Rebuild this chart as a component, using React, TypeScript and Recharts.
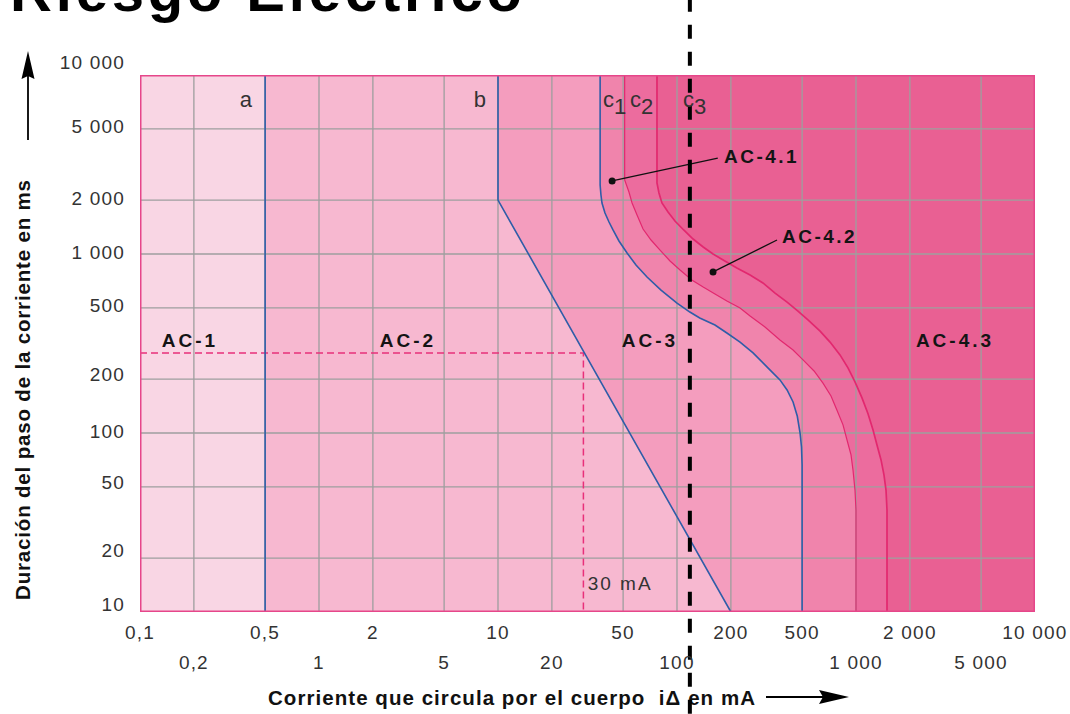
import React from 'react';
import { ComposedChart, XAxis, YAxis, Area, Line, Scatter, ReferenceLine } from 'recharts';

// ---------- axis ticks ----------
const X_TICKS = [0.1, 0.2, 0.5, 1, 2, 5, 10, 20, 50, 100, 200, 500, 1000, 2000, 5000, 10000];
const X_TICKS_TOP_ROW = [0.1, 0.5, 2, 10, 50, 200, 500, 2000, 10000];
const Y_TICKS = [10, 20, 50, 100, 200, 500, 1000, 2000, 5000, 10000];

// ---------- curves (current mA, time ms) ----------
const CURVE_A: [number, number][] = [[0.5, 10000], [0.5, 10]];
const CURVE_B: [number, number][] = [[10, 10000], [10, 2000], [200, 10]];
const CURVE_C1: [number, number][] = [
  [37.2, 10000], [37.2, 2430], [37.6, 2136], [38.1, 1927], [39.6, 1695], [41.7, 1509], [43.9, 1362],
  [47.4, 1182], [52.6, 1013], [59, 868], [68, 744], [81.4, 629], [100, 532], [118, 474], [134, 439],
  [163, 401], [190, 362], [225, 322], [266, 280], [318, 234], [376, 198], [412, 174], [445, 149],
  [470, 124], [487, 100], [496, 83.5], [500, 66], [500, 10],
];
const CURVE_C2: [number, number][] = [
  [51, 10000], [51, 2591], [53.9, 2220], [56.1, 1927], [59.8, 1651], [64.6, 1379], [71.6, 1197],
  [80.4, 1052], [91.4, 914], [104, 814], [121, 716], [140, 654], [163, 598], [190, 546], [225, 499],
  [256, 450], [310, 391], [376, 331], [445, 291], [506, 256], [583, 222], [654, 190], [725, 161],
  [783, 134], [846, 111], [891, 91.4], [938, 75.4], [962, 62.1], [987, 48], [1000, 37.1], [1000, 10],
];
const CURVE_C3: [number, number][] = [
  [77.3, 10000], [77.3, 2493], [79.3, 2192], [82.4, 1927], [89.1, 1716], [97.4, 1529], [109, 1362],
  [123, 1213], [140, 1094], [159, 1000], [185, 914], [216, 835], [256, 763], [302, 689], [353, 605],
  [412, 539], [474, 480], [539, 428], [630, 371], [716, 322], [814, 273], [902, 231], [987, 193],
  [1080, 157], [1167, 128], [1245, 104], [1310, 85.7], [1380, 70.7], [1433, 58.3], [1471, 48],
  [1490, 37.1], [1490, 10],
];
const PLOT_CORNER: [number, number] = [0.1, 10000];
const BACKGROUND: [number, number][] = [[0.1, 10000], [10000, 10000]];
const BORDER: [number, number][] = [[0.1, 10], [0.1, 10000], [10000, 10000], [10000, 10], [0.1, 10]];

// ---------- annotations ----------
const DASH_30MA: [number, number][] = [[0.1, 280], [30, 280], [30, 10]];
const LEADER_41: [number, number][] = [[43.4, 2560], [169, 3437]];
const LEADER_42: [number, number][] = [[159, 794], [362, 1197]];
const LEADER_DOTS: [number, number][] = [[43.4, 2560], [159, 794]];
const MARK_CURRENT = 118;
const MARK_SPAN: [number, number] = [27000, 2.7];

const ZONE_LABELS = [
  { x: 0.19, y: 327, text: 'AC-1' },
  { x: 3.14, y: 327, text: 'AC-2' },
  { x: 70.6, y: 327, text: 'AC-3' },
  { x: 3573, y: 327, text: 'AC-4.3' },
];
const CALLOUT_LABELS = [
  { x: 183, y: 3483, text: 'AC-4.1' },
  { x: 386, y: 1245, text: 'AC-4.2' },
];
const CURVE_LABELS = [
  { x: 0.39, y: 7250, text: 'a', sub: '', anchor: 'middle' },
  { x: 7.92, y: 7250, text: 'b', sub: '', anchor: 'middle' },
  { x: 38.6, y: 7250, text: 'c', sub: '1', anchor: 'start' },
  { x: 54.6, y: 7250, text: 'c', sub: '2', anchor: 'start' },
  { x: 108, y: 7250, text: 'c', sub: '3', anchor: 'start' },
];
const NOTE_LABELS = [{ x: 48.1, y: 14.5, text: '30 mA' }];

// ---------- colours ----------
const C_AC1 = '#f9d6e4';
const C_AC2 = '#f7b8d0';
const C_AC3 = '#f49dbe';
const C_AC41 = '#f084ac';
const C_AC42 = '#ec6c9e';
const C_AC43 = '#e96093';
const C_BLUE = '#2f5da8';
const C_PINK = '#e2286f';
const C_GRID = '#9e9e9e';

const FONT = "'Liberation Sans', Arial, Helvetica, sans-serif";

const pts = (arr: [number, number][]) => arr.map(([x, y]) => ({ x, y }));

const vGrid = X_TICKS.filter((v) => v > 0.1 && v < 10000).flatMap((v) => [
  { x: v, y: 10 },
  { x: v, y: 10000 },
  { x: v, y: null as number | null },
]);
const hGrid = Y_TICKS.filter((v) => v > 10 && v < 10000).flatMap((v) => [
  { x: 0.1, y: v as number | null },
  { x: 10000, y: v as number | null },
  { x: 10000, y: null as number | null },
]);

const fmt = (v: number) => {
  if (v < 1) return String(v).replace('.', ',');
  if (v >= 1000) return `${Math.floor(v / 1000)} ${String(v % 1000).padStart(3, '0')}`;
  return String(v);
};

const Y_DY: Record<number, number> = { 10000: -13, 20: -8, 10: -8, 200: -5, 50: -4 };

const XTick = (props: any) => {
  const { x, y, payload } = props;
  const top = X_TICKS_TOP_ROW.includes(payload.value);
  return (
    <text x={x} y={y + (top ? 12 : 42)} textAnchor="middle" dominantBaseline="central"
      fontFamily={FONT} fontSize={19} letterSpacing={1.2} fill="#333">
      {fmt(payload.value)}
    </text>
  );
};

const YTick = (props: any) => {
  const { x, y, payload } = props;
  const dy = Y_DY[payload.value] ?? -2;
  return (
    <text x={x} y={y + dy} textAnchor="end" dominantBaseline="central"
      fontFamily={FONT} fontSize={19} letterSpacing={1.2} fill="#333">
      {fmt(payload.value)}
    </text>
  );
};

const ZoneShape = (p: any) => (
  <text x={p.cx} y={p.cy} textAnchor="middle" dominantBaseline="central" fontFamily={FONT}
    fontSize={19} fontWeight="bold" letterSpacing={3} fill="#141414">
    {p.payload.text}
  </text>
);
const CalloutShape = (p: any) => (
  <text x={p.cx} y={p.cy} textAnchor="start" dominantBaseline="central" fontFamily={FONT}
    fontSize={19} fontWeight="bold" letterSpacing={2.5} fill="#141414">
    {p.payload.text}
  </text>
);
const CurveLabelShape = (p: any) => (
  <text x={p.cx} y={p.cy} textAnchor={p.payload.anchor} dominantBaseline="central" fontFamily={FONT}
    fontSize={22} fill="#333">
    {p.payload.text}
    {p.payload.sub ? <tspan dy={6}>{p.payload.sub}</tspan> : null}
  </text>
);
const NoteShape = (p: any) => (
  <text x={p.cx} y={p.cy} textAnchor="middle" dominantBaseline="central" fontFamily={FONT}
    fontSize={19} letterSpacing={2} fill="#333">
    {p.payload.text}
  </text>
);
const DotShape = (p: any) => <circle cx={p.cx} cy={p.cy} r={3.5} fill="#111" />;

const Overlay = () => (
  <svg width={1070} height={714} style={{ position: 'absolute', left: 0, top: 0 }}>
    <text x={10} y={11} fontFamily={FONT} fontWeight="bold" fontSize={58} fill="#000"
      textLength={512} lengthAdjust="spacing">Riesgo Eléctrico</text>
    <text transform="translate(22,390) rotate(-90)" textAnchor="middle" dominantBaseline="central"
      fontFamily={FONT} fontWeight="bold" fontSize={20.5} fill="#111" textLength={420} lengthAdjust="spacing">
      Duración del paso de la corriente en ms
    </text>
    <text x={268} y={697} dominantBaseline="central" fontFamily={FONT} fontWeight="bold" fontSize={20.5}
      fill="#111" textLength={487} lengthAdjust="spacing" style={{ whiteSpace: 'pre' }}>
      {'Corriente que circula por el cuerpo  i\u0394 en mA'}
    </text>
    <line x1={28} y1={140} x2={28} y2={74} stroke="#000" strokeWidth={1.8} />
    <polygon points="28,51 21.5,79 28,76 34.5,79" fill="#000" />
    <line x1={766} y1={697} x2={826} y2={697} stroke="#000" strokeWidth={1.8} />
    <polygon points="849,697 819,690 823,697 819,704" fill="#000" />
  </svg>
);

export default function App() {
  return (
    <div style={{ position: 'fixed', left: 0, top: 0, width: 1070, height: 714, background: '#fff', overflow: 'hidden' }}>
      <Overlay />
      <div style={{ position: 'absolute', left: 0, top: 0 }}>
        <ComposedChart width={1070} height={714} margin={{ top: 75, right: 35, bottom: 42, left: 20 }}>
          <XAxis type="number" dataKey="x" scale="log" domain={[0.1, 10000]} ticks={X_TICKS} interval={0}
            allowDataOverflow axisLine={false} tickLine={false} height={60} tick={(p: any) => <XTick {...p} />} />
          <YAxis type="number" dataKey="y" scale="log" domain={[10, 10000]} ticks={Y_TICKS} interval={0}
            allowDataOverflow axisLine={false} tickLine={false} width={120} tickMargin={9}
            tick={(p: any) => <YTick {...p} />} />

          <Area data={pts(BACKGROUND)} dataKey="y" type="linear" baseValue={10} fill={C_AC43} fillOpacity={1} stroke="none" isAnimationActive={false} />
          <Area data={pts([PLOT_CORNER, ...CURVE_C3])} dataKey="y" type="linear" baseValue={10} fill={C_AC42} fillOpacity={1} stroke="none" isAnimationActive={false} />
          <Area data={pts([PLOT_CORNER, ...CURVE_C2])} dataKey="y" type="linear" baseValue={10} fill={C_AC41} fillOpacity={1} stroke="none" isAnimationActive={false} />
          <Area data={pts([PLOT_CORNER, ...CURVE_C1])} dataKey="y" type="linear" baseValue={10} fill={C_AC3} fillOpacity={1} stroke="none" isAnimationActive={false} />
          <Area data={pts([PLOT_CORNER, ...CURVE_B])} dataKey="y" type="linear" baseValue={10} fill={C_AC2} fillOpacity={1} stroke="none" isAnimationActive={false} />
          <Area data={pts([PLOT_CORNER, ...CURVE_A])} dataKey="y" type="linear" baseValue={10} fill={C_AC1} fillOpacity={1} stroke="none" isAnimationActive={false} />

          <Line data={vGrid} dataKey="y" type="linear" stroke={C_GRID} strokeWidth={1.3} dot={false} activeDot={false} isAnimationActive={false} />
          <Line data={hGrid} dataKey="y" type="linear" stroke={C_GRID} strokeWidth={1.3} dot={false} activeDot={false} isAnimationActive={false} />

          <Line data={pts(DASH_30MA)} dataKey="y" type="linear" stroke="#e8307a" strokeWidth={1.5} strokeDasharray="7 4" dot={false} activeDot={false} isAnimationActive={false} />

          <Line data={pts(CURVE_A)} dataKey="y" type="linear" stroke={C_BLUE} strokeWidth={1.6} dot={false} activeDot={false} isAnimationActive={false} />
          <Line data={pts(CURVE_B)} dataKey="y" type="linear" stroke={C_BLUE} strokeWidth={1.6} dot={false} activeDot={false} isAnimationActive={false} />
          <Line data={pts(CURVE_C1)} dataKey="y" type="linear" stroke={C_BLUE} strokeWidth={1.6} dot={false} activeDot={false} isAnimationActive={false} />
          <Line data={pts(CURVE_C2)} dataKey="y" type="linear" stroke={C_PINK} strokeWidth={1.2} dot={false} activeDot={false} isAnimationActive={false} />
          <Line data={pts(CURVE_C3)} dataKey="y" type="linear" stroke={C_PINK} strokeWidth={1.7} dot={false} activeDot={false} isAnimationActive={false} />

          <Line data={pts(BORDER)} dataKey="y" type="linear" stroke="#e6468a" strokeWidth={3} dot={false} activeDot={false} isAnimationActive={false} />

          <Line data={pts(LEADER_41)} dataKey="y" type="linear" stroke="#111" strokeWidth={1.3} dot={false} activeDot={false} isAnimationActive={false} />
          <Line data={pts(LEADER_42)} dataKey="y" type="linear" stroke="#111" strokeWidth={1.3} dot={false} activeDot={false} isAnimationActive={false} />
          <Scatter data={pts(LEADER_DOTS)} dataKey="y" shape={DotShape} isAnimationActive={false} />

          <Scatter data={ZONE_LABELS} dataKey="y" shape={ZoneShape} isAnimationActive={false} />
          <Scatter data={CALLOUT_LABELS} dataKey="y" shape={CalloutShape} isAnimationActive={false} />
          <Scatter data={CURVE_LABELS} dataKey="y" shape={CurveLabelShape} isAnimationActive={false} />
          <Scatter data={NOTE_LABELS} dataKey="y" shape={NoteShape} isAnimationActive={false} />

          <ReferenceLine
            segment={[{ x: MARK_CURRENT, y: MARK_SPAN[0] }, { x: MARK_CURRENT, y: MARK_SPAN[1] }]}
            ifOverflow="visible" stroke="#000" strokeWidth={4} strokeDasharray="14 13" />
        </ComposedChart>
      </div>
    </div>
  );
}
